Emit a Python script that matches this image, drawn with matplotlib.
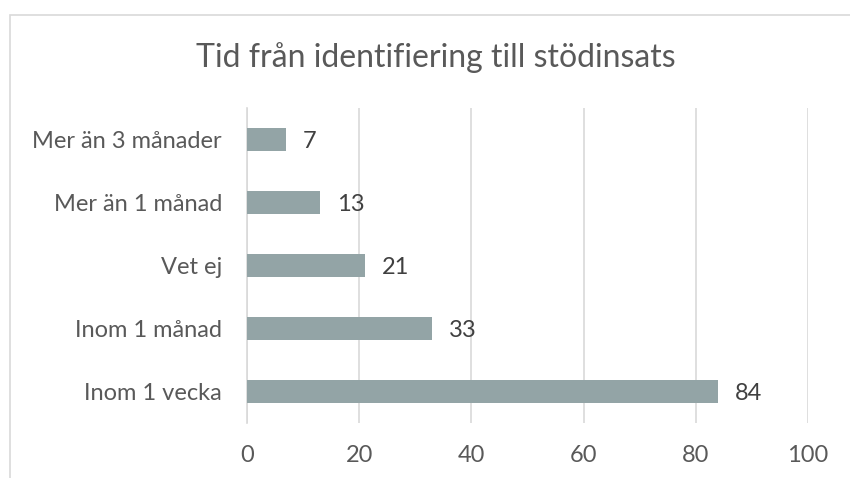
import matplotlib.pyplot as plt
from matplotlib.patches import Rectangle

# Data (bottom to top)
categories = ["Inom 1 vecka", "Inom 1 månad", "Vet ej", "Mer än 1 månad", "Mer än 3 månader"]
values = [84, 33, 21, 13, 7]
x_ticks = [0, 20, 40, 60, 80, 100]

plt.rcParams['font.family'] = ['Lato', 'DejaVu Sans']
text_color = '#595959'

fig = plt.figure(figsize=(8.5, 4.78), dpi=100)
W, H = 850, 478
ax = fig.add_axes([247 / W, 1 - 423 / H, (808 - 247) / W, (423 - 108) / H])

# Chart area border (light grey, runs off the right and bottom edge)
fig.patches.append(Rectangle((10 / W, -0.1), 1.2, 1 - 15 / H + 0.1,
                             transform=fig.transFigure, fill=False,
                             edgecolor='#d9d9d9', linewidth=1.2))

bars = ax.barh(range(len(categories)), values, height=0.36, color='#93a4a6', zorder=3)
ax.set_ylim(-0.5, len(categories) - 0.5)
ax.set_xlim(0, 100)
ax.set_xticks(x_ticks)
ax.set_yticks(range(len(categories)))
ax.set_yticklabels(categories)

for b, v in zip(bars, values):
    ax.text(v + 3, b.get_y() + b.get_height() / 2 - 0.03, str(v), va='center', ha='left',
            fontsize=17, color='#404040')

ax.grid(axis='x', color='#d9d9d9', linewidth=1.2, zorder=0)
for s in ['top', 'right', 'bottom']:
    ax.spines[s].set_visible(False)
ax.spines['left'].set_color('#d9d9d9')
ax.spines['left'].set_linewidth(1.2)
ax.tick_params(axis='both', length=0, labelsize=17, colors=text_color)
ax.tick_params(axis='x', pad=16)
ax.tick_params(axis='y', pad=18)

fig.text(436 / W, 1 - 58 / H, "Tid från identifiering till stödinsats", ha='center', va='center',
         fontsize=23, color=text_color)

fig.savefig("out.png", dpi=100)
